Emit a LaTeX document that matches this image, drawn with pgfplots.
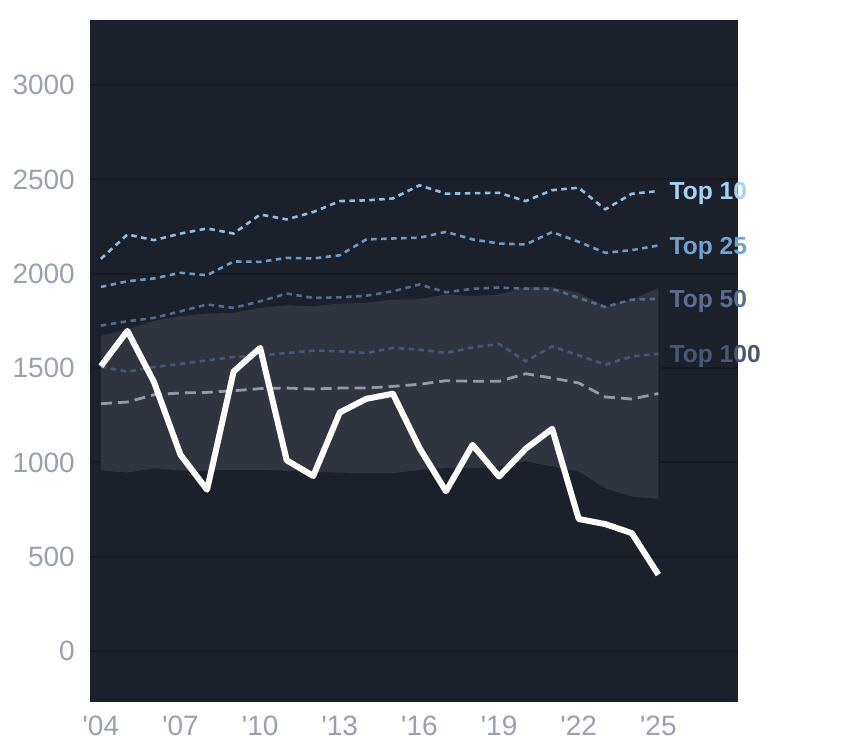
\documentclass[border=0pt]{standalone}
\usepackage{pgfplots}
\pgfplotsset{compat=1.18}
\usepackage{pgfplotstable}
\usepgfplotslibrary{fillbetween}
\usepackage{fontspec}
\setmainfont{Liberation Sans}
\definecolor{bgc}{HTML}{1C202B}
\definecolor{gridc}{HTML}{151821}
\definecolor{bandc}{HTML}{30343F}
\definecolor{tenl}{HTML}{8DBFE6}
\definecolor{tent}{HTML}{A5D3F7}
\definecolor{twfl}{HTML}{6B9BC8}
\definecolor{twft}{HTML}{6FA3D0}
\definecolor{fifl}{HTML}{56698B}
\definecolor{fift}{HTML}{5B6E8E}
\definecolor{hunl}{HTML}{485672}
\definecolor{hunt}{HTML}{4A5774}
\definecolor{medc}{HTML}{9399A6}
\definecolor{tickc}{HTML}{9AA0AD}
\pgfplotstableread{
year top10 top25 top50 top100 med bandhi bandlo main
2004 2079 1930 1725 1507 1311 1670 957 1510
2005 2208 1960 1748 1481 1320 1705 946 1697
2006 2178 1975 1766 1505 1359 1750 969 1426
2007 2213 2005 1801 1522 1368 1775 957 1040
2008 2240 1992 1837 1541 1371 1789 957 855
2009 2213 2065 1819 1559 1380 1792 961 1482
2010 2314 2063 1854 1565 1391 1819 961 1607
2011 2288 2084 1895 1580 1394 1833 955 1011
2012 2327 2081 1872 1592 1389 1827 948 928
2013 2385 2098 1875 1589 1394 1842 946 1265
2014 2389 2182 1884 1580 1394 1845 943 1337
2015 2399 2187 1907 1607 1403 1863 943 1364
2016 2469 2191 1943 1598 1414 1865 961 1077
2017 2424 2222 1902 1580 1433 1890 969 847
2018 2427 2182 1920 1610 1430 1881 969 1093
2019 2429 2160 1927 1628 1430 1890 978 925
2020 2385 2155 1921 1536 1470 1929 1005 1072
2021 2443 2221 1920 1615 1447 1929 978 1178
2022 2456 2169 1872 1567 1421 1899 952 700
2023 2341 2111 1824 1518 1347 1827 863 673
2024 2424 2125 1863 1562 1336 1863 819 625
2025 2438 2150 1867 1575 1365 1925 807 405
}\data
\begin{document}
\begin{tikzpicture}
\begin{axis}[
  scale only axis, width=648bp, height=682bp,
  xmin=2003.59, xmax=2028.0, ymin=-270, ymax=3345,
  axis background/.style={fill=bgc},
  axis line style={draw=none},
  major tick length=0pt,
  ytick={0,500,...,3000},
  xtick={2004,2007,...,2025},
  xticklabels={\textquotesingle 04,\textquotesingle 07,\textquotesingle 10,\textquotesingle 13,\textquotesingle 16,\textquotesingle 19,\textquotesingle 22,\textquotesingle 25},
  ymajorgrids, grid style={draw=gridc, line width=2bp},
  /pgf/number format/.cd, 1000 sep={}, assume math mode=true, /pgfplots/.cd,
  ticklabel style={font=\fontsize{28bp}{30bp}\selectfont, text=tickc, inner sep=0pt},
  yticklabel style={anchor=east, xshift=-15bp},
  xticklabel style={anchor=north, yshift=-14bp},
  clip=false,
  every axis plot/.append style={line join=round},
]
\addplot[draw=none, name path=up, forget plot] table[x=year,y=bandhi]{\data};
\addplot[draw=none, name path=lo, forget plot] table[x=year,y=bandlo]{\data};
\addplot[fill=bandc, draw=none] fill between[of=up and lo];
\addplot[draw=hunl, line width=2.6bp, dash pattern=on 5.5bp off 4.5bp] table[x=year,y=top100]{\data};
\addplot[draw=medc, line width=2.8bp, dash pattern=on 11bp off 6bp] table[x=year,y=med]{\data};
\addplot[draw=fifl, line width=2.6bp, dash pattern=on 5.5bp off 4.5bp] table[x=year,y=top50]{\data};
\addplot[draw=twfl, line width=2.6bp, dash pattern=on 5.5bp off 4.5bp] table[x=year,y=top25]{\data};
\addplot[draw=tenl, line width=2.6bp, dash pattern=on 5.5bp off 4.5bp] table[x=year,y=top10]{\data};
\addplot[draw=white, line width=6bp] table[x=year,y=main]{\data};
\node[anchor=base west, xshift=11bp, yshift=-8.6bp, text=tent, font=\bfseries\fontsize{24.6bp}{26bp}\selectfont, inner sep=0pt] at (axis cs:2025,2438) {Top 10};
\node[anchor=base west, xshift=11bp, yshift=-8.6bp, text=twft, font=\bfseries\fontsize{24.6bp}{26bp}\selectfont, inner sep=0pt] at (axis cs:2025,2150) {Top 25};
\node[anchor=base west, xshift=11bp, yshift=-8.6bp, text=fift, font=\bfseries\fontsize{24.6bp}{26bp}\selectfont, inner sep=0pt] at (axis cs:2025,1867) {Top 50};
\node[anchor=base west, xshift=11bp, yshift=-8.6bp, text=hunt, font=\bfseries\fontsize{24.6bp}{26bp}\selectfont, inner sep=0pt] at (axis cs:2025,1575) {Top 100};
\end{axis}
\pgfresetboundingbox
\path ([xshift=-90bp,yshift=-46bp]current axis.south west) rectangle ([xshift=106bp,yshift=20bp]current axis.north east);
\end{tikzpicture}
\end{document}
